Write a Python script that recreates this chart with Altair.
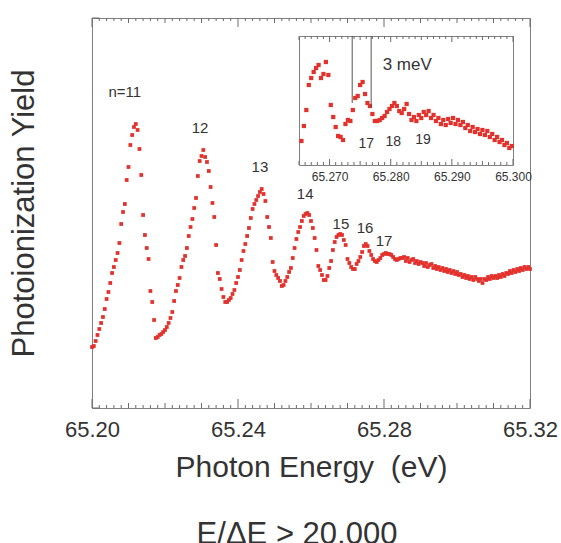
import altair as alt
import pandas as pd

# ---------------- data ----------------
main_energy = [
    65.2000, 65.2005, 65.2010, 65.2015, 65.2020, 65.2025, 65.2030, 65.2035, 65.2040, 65.2045,
    65.2050, 65.2055, 65.2060, 65.2065, 65.2070, 65.2075, 65.2080, 65.2085, 65.2090, 65.2095,
    65.2100, 65.2105, 65.2110, 65.2115, 65.2120, 65.2125, 65.2130, 65.2135, 65.2140, 65.2145,
    65.2150, 65.2155, 65.2160, 65.2165, 65.2170, 65.2175, 65.2180, 65.2185, 65.2190, 65.2195,
    65.2200, 65.2205, 65.2210, 65.2215, 65.2220, 65.2225, 65.2230, 65.2235, 65.2240, 65.2245,
    65.2250, 65.2255, 65.2260, 65.2265, 65.2270, 65.2275, 65.2280, 65.2285, 65.2290, 65.2295,
    65.2300, 65.2305, 65.2310, 65.2315, 65.2320, 65.2325, 65.2330, 65.2335, 65.2340, 65.2345,
    65.2350, 65.2355, 65.2360, 65.2365, 65.2370, 65.2375, 65.2380, 65.2385, 65.2390, 65.2395,
    65.2400, 65.2405, 65.2410, 65.2415, 65.2420, 65.2425, 65.2430, 65.2435, 65.2440, 65.2445,
    65.2450, 65.2455, 65.2460, 65.2465, 65.2470, 65.2475, 65.2480, 65.2485, 65.2490, 65.2495,
    65.2500, 65.2505, 65.2510, 65.2515, 65.2520, 65.2525, 65.2530, 65.2535, 65.2540, 65.2545,
    65.2550, 65.2555, 65.2560, 65.2565, 65.2570, 65.2575, 65.2580, 65.2585, 65.2590, 65.2595,
    65.2600, 65.2605, 65.2610, 65.2615, 65.2620, 65.2625, 65.2630, 65.2635, 65.2640, 65.2645,
    65.2650, 65.2655, 65.2660, 65.2665, 65.2670, 65.2675, 65.2680, 65.2685, 65.2690, 65.2695,
    65.2700, 65.2705, 65.2710, 65.2715, 65.2720, 65.2725, 65.2730, 65.2735, 65.2740, 65.2745,
    65.2750, 65.2755, 65.2760, 65.2765, 65.2770, 65.2775, 65.2780, 65.2785, 65.2790, 65.2795,
    65.2800, 65.2805, 65.2810, 65.2815, 65.2820, 65.2825, 65.2830, 65.2835, 65.2840, 65.2845,
    65.2850, 65.2855, 65.2860, 65.2865, 65.2870, 65.2875, 65.2880, 65.2885, 65.2890, 65.2895,
    65.2900, 65.2905, 65.2910, 65.2915, 65.2920, 65.2925, 65.2930, 65.2935, 65.2940, 65.2945,
    65.2950, 65.2955, 65.2960, 65.2965, 65.2970, 65.2975, 65.2980, 65.2985, 65.2990, 65.2995,
    65.3000, 65.3005, 65.3010, 65.3015, 65.3020, 65.3025, 65.3030, 65.3035, 65.3040, 65.3045,
    65.3050, 65.3055, 65.3060, 65.3065, 65.3070, 65.3075, 65.3080, 65.3085, 65.3090, 65.3095,
    65.3100, 65.3105, 65.3110, 65.3115, 65.3120, 65.3125, 65.3130, 65.3135, 65.3140, 65.3145,
    65.3150, 65.3155, 65.3160, 65.3165, 65.3170, 65.3175, 65.3180, 65.3185, 65.3190, 65.3195,
    65.3200,
]
main_yield = [
    61, 62, 67, 73, 79, 85, 91, 99, 109, 116,
    125, 135, 141, 148, 155, 165, 184, 196, 204, 228,
    241, 263, 273, 281, 284, 278, 259, 233, 193, 173,
    160, 149, 117, 106, 88, 70, 71, 73, 74, 76,
    78, 81, 85, 90, 96, 107, 117, 123, 130, 141,
    148, 152, 160, 172, 181, 189, 200, 210, 232, 247,
    252, 258, 251, 246, 237, 221, 205, 191, 163, 135,
    129, 119, 111, 106, 106, 108, 110, 114, 118, 125,
    131, 138, 148, 157, 164, 172, 180, 190, 199, 204,
    208, 212, 216, 219, 214, 207, 191, 181, 170, 146,
    137, 133, 130, 127, 122, 123, 127, 131, 136, 140,
    150, 160, 169, 176, 181, 187, 192, 194, 195, 193,
    187, 180, 170, 158, 142, 138, 133, 128, 128, 132,
    140, 147, 158, 166, 171, 173, 174, 173, 168, 163,
    149, 145, 141, 139, 139, 144, 147, 151, 156, 162,
    164, 162, 157, 153, 149, 147, 146, 148, 150, 153,
    154, 155, 154, 154, 153, 151, 149, 148, 149, 150,
    150, 151, 147, 150, 146, 148, 149, 145, 147, 144,
    146, 145, 142, 145, 141, 143, 144, 140, 142, 139,
    141, 138, 140, 137, 139, 136, 138, 135, 137, 134,
    136, 133, 134, 131, 133, 130, 132, 129, 131, 128,
    131, 129, 127, 129, 125, 129, 128, 131, 129, 132,
    130, 132, 130, 133, 131, 134, 132, 135, 134, 137,
    135, 138, 136, 139, 137, 140, 138, 141, 139, 141,
    139,
]

inset_energy = [
    65.2654, 65.2658, 65.2662, 65.2666, 65.2670, 65.2674, 65.2678, 65.2682, 65.2686, 65.2690,
    65.2694, 65.2698, 65.2702, 65.2706, 65.2710, 65.2714, 65.2718, 65.2722, 65.2726, 65.2730,
    65.2734, 65.2738, 65.2742, 65.2746, 65.2750, 65.2754, 65.2758, 65.2762, 65.2766, 65.2770,
    65.2774, 65.2778, 65.2782, 65.2786, 65.2790, 65.2794, 65.2798, 65.2802, 65.2806, 65.2810,
    65.2814, 65.2818, 65.2822, 65.2826, 65.2830, 65.2834, 65.2838, 65.2842, 65.2846, 65.2850,
    65.2854, 65.2858, 65.2862, 65.2866, 65.2870, 65.2874, 65.2878, 65.2882, 65.2886, 65.2890,
    65.2894, 65.2898, 65.2902, 65.2906, 65.2910, 65.2914, 65.2918, 65.2922, 65.2926, 65.2930,
    65.2934, 65.2938, 65.2942, 65.2946, 65.2950, 65.2954, 65.2958, 65.2962, 65.2966, 65.2970,
    65.2974, 65.2978, 65.2982, 65.2986, 65.2990, 65.2994, 65.2998,
]
inset_yield = [
    24, 39, 55, 80, 87, 93, 97, 100, 87, 91,
    103, 90, 60, 48, 38, 29, 28, 25, 41, 45,
    44, 55, 67, 69, 80, 83, 71, 62, 59, 51,
    44, 44, 45, 47, 49, 53, 56, 59, 62, 59,
    54, 52, 56, 61, 51, 45, 48, 44, 50, 47,
    53, 50, 54, 47, 50, 44, 47, 41, 45, 40,
    46, 42, 47, 41, 45, 40, 43, 37, 40, 34,
    38, 33, 36, 31, 35, 30, 34, 28, 31, 25,
    28, 23, 25, 20, 22, 17, 19,
]

peak_labels = ["n=11", "12", "13", "14", "15", "16", "17"]
peak_label_energy = [65.2090, 65.2296, 65.2460, 65.2584, 65.2682, 65.2748, 65.2800]
peak_label_yield = [316, 280, 241, 214, 184, 180, 167]

inset_labels = ["17", "18", "19"]
inset_label_energy = [65.2760, 65.2804, 65.2853]
inset_label_yield = [21, 23, 25]

marker_energy = [65.2737, 65.2768]
marker_top = [129, 129]
marker_bottom = [62, 58]

main_major_ticks = [65.20, 65.24, 65.28, 65.32]
main_mid_ticks = [round(65.20 + 0.01 * k, 2) for k in range(13)]
main_minor_ticks = [round(65.20 + 0.002 * k, 3) for k in range(61)]
inset_major_ticks = [65.27, 65.28, 65.29, 65.30]
inset_mid_ticks = [65.265, 65.275, 65.285, 65.295]
inset_minor_ticks = [round(65.265 + 0.001 * k, 3) for k in range(36)]

# ---------------- styling ----------------
FONT = "Liberation Sans"
TXT = "#333333"
FRAME = "#808080"
TICK = "#6a6a6a"
RED = "#e3312c"
W, H = 438, 390
MAIN_TOP = 390      # yield-axis top of the main panel (1 unit = 1 px)
INSET_TOP = 129     # yield-axis top of the inset (1 unit = 1 px)

mx = alt.Scale(domain=[65.20, 65.32], nice=False, zero=False)
my = alt.Scale(domain=[0, MAIN_TOP], nice=False, zero=False)
ix = alt.Scale(domain=[65.265, 65.300], range=[207, 421], nice=False, zero=False)
iy = alt.Scale(domain=[0, INSET_TOP], range=[147, 18], nice=False, zero=False)

main_df = pd.DataFrame({"E": main_energy, "Y": main_yield})
inset_df = pd.DataFrame({"E": inset_energy, "Y": inset_yield})
peak_df = pd.DataFrame({"E": peak_label_energy, "Y": peak_label_yield, "t": peak_labels})
ilab_df = pd.DataFrame({"E": inset_label_energy, "Y": inset_label_yield, "t": inset_labels})
mark_df = pd.DataFrame({"E": marker_energy, "Y": marker_top, "Y2": marker_bottom})
meV_df = pd.DataFrame({"E": [65.2827], "Y": [100], "t": ["3 meV"]})
dummy_inset = pd.DataFrame({"E": [65.28], "Y": [60]})


def tick_len(v, major, mid, big, medium, small):
    if any(abs(v - m) < 1e-9 for m in major):
        return big
    if any(abs(v - m) < 1e-9 for m in mid):
        return medium
    return small


main_tick_rows = []
for v in main_minor_ticks:
    L = tick_len(v, main_major_ticks, main_mid_ticks, 9, 5, 3)
    main_tick_rows.append({"E": v, "Y": 0, "Y2": L})
    main_tick_rows.append({"E": v, "Y": MAIN_TOP, "Y2": MAIN_TOP - L})
main_tick_df = pd.DataFrame(main_tick_rows)

# short inward ticks on the left edge at both ends
left_tick_df = pd.DataFrame({"E": [65.20, 65.20], "E2": [65.202, 65.202], "Y": [0, MAIN_TOP]})

inset_tick_rows = []
for v in inset_minor_ticks:
    L = tick_len(v, inset_major_ticks, inset_mid_ticks, 6, 4, 3)
    inset_tick_rows.append({"E": v, "Y": 0, "Y2": L})
    inset_tick_rows.append({"E": v, "Y": INSET_TOP, "Y2": INSET_TOP - L})
inset_tick_df = pd.DataFrame(inset_tick_rows)

# main data + bottom labels + y title
main_pts = alt.Chart(main_df).mark_square(size=14, color=RED, opacity=1).encode(
    x=alt.X("E:Q", scale=mx, axis=alt.Axis(
        orient="bottom", values=main_major_ticks, format=".2f", ticks=False, domain=False,
        labelFontSize=22, labelPadding=11, labelFlush=False, labelOverlap=False,
        title="Photon Energy\u00a0\u00a0(eV)", titleFontSize=30, titlePadding=12,
        titleFontWeight="normal", grid=False)),
    y=alt.Y("Y:Q", scale=my, axis=alt.Axis(
        orient="left", labels=False, ticks=False, domain=False,
        title="Photoionization Yield", titleFontSize=31, titlePadding=52,
        titleFontWeight="normal", grid=False)),
)

main_layers = [
    main_pts,
    alt.Chart(main_tick_df).mark_rule(color=TICK, strokeWidth=1).encode(
        x=alt.X("E:Q", scale=mx, axis=None),
        y=alt.Y("Y:Q", scale=my, axis=None),
        y2="Y2:Q"),
    alt.Chart(left_tick_df).mark_rule(color=TICK, strokeWidth=1).encode(
        x=alt.X("E:Q", scale=mx, axis=None),
        x2="E2:Q",
        y=alt.Y("Y:Q", scale=my, axis=None)),
    alt.Chart(peak_df).mark_text(font=FONT, fontSize=15, color=TXT).encode(
        x=alt.X("E:Q", scale=mx, axis=None),
        y=alt.Y("Y:Q", scale=my, axis=None),
        text="t:N"),
]

inset_pts = alt.Chart(inset_df).mark_square(size=18, color=RED, opacity=1).encode(
    x=alt.X("E:Q", scale=ix, axis=alt.Axis(
        orient="bottom", offset=-(H - 147), values=inset_major_ticks, format=".3f",
        ticks=False, domain=True, domainColor=FRAME, labelFontSize=12, labelPadding=6,
        labelFlush=False, labelOverlap=False, title=None, grid=False)),
    y=alt.Y("Y:Q", scale=iy, axis=alt.Axis(
        orient="left", offset=-207, labels=False, ticks=False, domain=True,
        domainColor=FRAME, title=None, grid=False)),
)

inset_frame = alt.Chart(dummy_inset).mark_point(opacity=0, size=1).encode(
    x=alt.X("E:Q", scale=ix, axis=alt.Axis(
        orient="bottom", offset=-(H - 18), labels=False, ticks=False, domain=True,
        domainColor=FRAME, title=None, grid=False)),
    y=alt.Y("Y:Q", scale=iy, axis=alt.Axis(
        orient="right", offset=-(W - 421), labels=False, ticks=False, domain=True,
        domainColor=FRAME, title=None, grid=False)),
)

inset_layers = [
    inset_pts,
    inset_frame,
    alt.Chart(inset_tick_df).mark_rule(color=TICK, strokeWidth=1).encode(
        x=alt.X("E:Q", scale=ix, axis=None),
        y=alt.Y("Y:Q", scale=iy, axis=None),
        y2="Y2:Q"),
    alt.Chart(mark_df).mark_rule(color="#555555", strokeWidth=1).encode(
        x=alt.X("E:Q", scale=ix, axis=None),
        y=alt.Y("Y:Q", scale=iy, axis=None),
        y2="Y2:Q"),
    alt.Chart(ilab_df).mark_text(font=FONT, fontSize=14, color=TXT).encode(
        x=alt.X("E:Q", scale=ix, axis=None),
        y=alt.Y("Y:Q", scale=iy, axis=None),
        text="t:N"),
    alt.Chart(meV_df).mark_text(font=FONT, fontSize=17, color=TXT).encode(
        x=alt.X("E:Q", scale=ix, axis=None),
        y=alt.Y("Y:Q", scale=iy, axis=None),
        text="t:N"),
]

chart = alt.layer(*main_layers, *inset_layers).resolve_scale(
    x="independent", y="independent"
).resolve_axis(
    x="independent", y="independent"
).properties(
    width=W, height=H,
    autosize=alt.AutoSizeParams(type="none"),
    padding={"left": 92, "top": 18, "right": 561 - 92 - W, "bottom": 543 - 18 - H},
    title=alt.TitleParams("E/ΔE > 20,000", orient="bottom", fontSize=31, font=FONT,
                          color=TXT, fontWeight="normal", anchor="middle", dx=-14, offset=38),
).configure_view(
    stroke=FRAME, strokeWidth=1
).configure_axis(
    labelFont=FONT, titleFont=FONT, labelColor=TXT, titleColor=TXT, grid=False
)

chart.save("out.html", embed_options={"renderer": "svg", "actions": False})
